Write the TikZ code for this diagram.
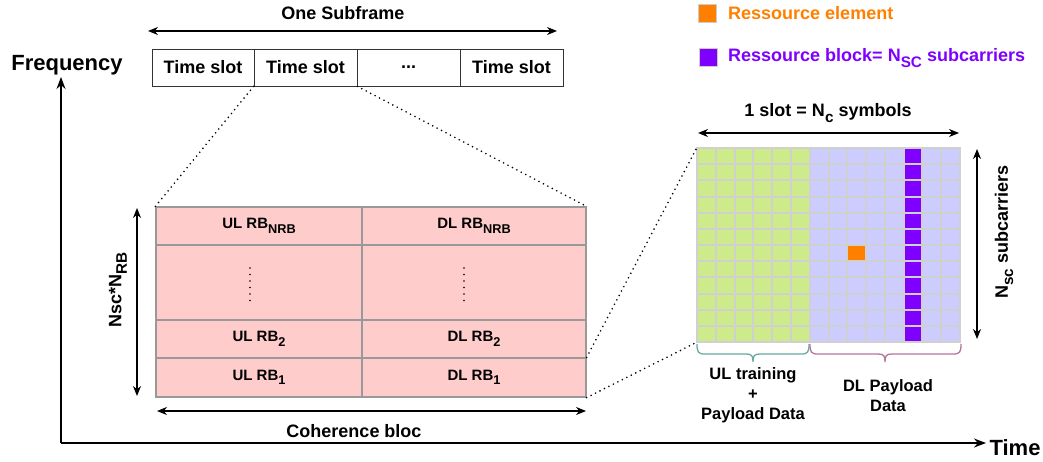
\documentclass[tikz,border=0pt]{standalone}
\usepackage{fontspec}
\setmainfont{Liberation Sans}
\usepackage{graphicx}
\usetikzlibrary{arrows.meta,calc}
\definecolor{cgreen}{HTML}{CDEB8B}
\definecolor{clav}{HTML}{CCCCFF}
\definecolor{cpurp}{HTML}{7F00FF}
\definecolor{corange}{HTML}{FF8000}
\definecolor{cpink}{HTML}{FFCCCC}
\definecolor{cteal}{HTML}{67AB9F}
\definecolor{cmag}{HTML}{B5739D}
\definecolor{cgridline}{HTML}{D0D0D0}
\newcommand\fsz[2]{\fontsize{#1}{#2}\selectfont}
\newcommand\lsub[1]{\raisebox{-0.3em}{\scalebox{0.85}{#1}}}
\begin{document}
\begin{tikzpicture}[x=1pt,y=-1pt,
  lbl/.style={inner sep=0pt, font=\bfseries\fsz{18}{21}},
  slotbox/.style={draw=black!80, line width=0.8pt, minimum width=103pt, minimum height=37pt, inner sep=0pt, font=\bfseries\fsz{18}{21}},
  rbcell/.style={draw=black!40, fill=cpink, line width=1.2pt, inner sep=0pt, font=\bfseries\fsz{15}{17}},
  dblarrow/.style={{Stealth[length=10pt,width=8pt]}-{Stealth[length=10pt,width=8pt]}, line width=1.3pt},
  axisarrow/.style={-{Stealth[length=12pt,width=9pt]}, line width=1.5pt},
  dotline/.style={dash pattern=on 0pt off 5pt, line cap=round, line width=1.8pt},
  legsq/.style={draw=black!20, line width=0.6pt, minimum size=18pt, inner sep=0pt},
  bracelbl/.style={inner sep=0pt, align=center, font=\bfseries\fsz{16.5}{20}}
]
\useasboundingbox (0,0) rectangle (1043,462);

% ---------- axes ----------
\coordinate (orig) at (61,443);
\coordinate (ytop) at (61,77);
\coordinate (xend) at (986,443);
\draw[axisarrow] (orig) -- (ytop);
\draw[axisarrow] (orig) -- (xend);
\node[lbl, font=\bfseries\fsz{22}{26}] (freq) at (67,65) {Frequency};
\node[lbl, font=\bfseries\fsz{22}{26}] (time) at (1015,448) {Time};

% ---------- subframe ----------
\node[lbl] (sftxt) at (343,13) {One Subframe};
\coordinate (sfL) at (148,31);
\coordinate (sfR) at (557,31);
\draw[dblarrow] (sfL) -- (sfR);
\node[slotbox, minimum width=102pt] (s1) at (203,67.5) {Time slot};
\node[slotbox] (s2) at (305.5,67.5) {Time slot};
\node[slotbox] (s3) at (408.5,67.5) {...};
\node[slotbox] (s4) at (511.5,67.5) {Time slot};

% ---------- coherence bloc grid ----------
\node[rbcell, minimum width=206pt, minimum height=38pt] (c11) at (259,226) {UL RB\lsub{NRB}};
\node[rbcell, minimum width=224pt, minimum height=38pt] (c12) at (474,226) {DL RB\lsub{NRB}};
\node[rbcell, minimum width=206pt, minimum height=75pt] (c21) at (259,282.5) {};
\node[rbcell, minimum width=224pt, minimum height=75pt] (c22) at (474,282.5) {};
\node[rbcell, minimum width=206pt, minimum height=38pt] (c31) at (259,339) {UL RB\lsub{2}};
\node[rbcell, minimum width=224pt, minimum height=38pt] (c32) at (474,339) {DL RB\lsub{2}};
\node[rbcell, minimum width=206pt, minimum height=39pt] (c41) at (259,377.5) {UL RB\lsub{1}};
\node[rbcell, minimum width=224pt, minimum height=39pt] (c42) at (474,377.5) {DL RB\lsub{1}};
\coordinate (dla) at (250,268);
\coordinate (dlb) at (250,301);
\coordinate (dra) at (464,268);
\coordinate (drb) at (464,301);
\draw[dotline, dash pattern=on 0pt off 6.5pt] (dla) -- (dlb);
\draw[dotline, dash pattern=on 0pt off 6.5pt] (dra) -- (drb);

\coordinate (vaT) at (137,208);
\coordinate (vaB) at (137,396);
\draw[dblarrow] (vaT) -- (vaB);
\node[lbl, rotate=90] (nscnrb) at (118,290) {Nsc*N\lsub{RB}};
\coordinate (haL) at (157,411);
\coordinate (haR) at (586,411);
\draw[dblarrow] (haL) -- (haR);
\node[lbl] (coh) at (354,431) {Coherence bloc};

% ---------- resource grid ----------
\node[minimum width=263pt, minimum height=194pt, inner sep=0pt] (grid) at (828.5,245) {};
\fill[cgridline] ($(grid.north west)+(-1,-1)$) rectangle ($(grid.south east)+(1,1)$);
\foreach \c in {0,...,13}{
  \foreach \r in {0,...,11}{
    \ifnum\c<6 \def\cc{cgreen}\else\ifnum\c=11 \def\cc{cpurp}\else\def\cc{clav}\fi\fi
    \fill[\cc] ({697+\c*18.786+1},{148+\r*16.167+1}) rectangle ({697+(\c+1)*18.786-1},{148+(\r+1)*16.167-1});
  }
}
\fill[corange] ({697+8*18.786+1},{148+6*16.167+1}) rectangle ({697+9*18.786-1},{148+7*16.167-1});

\node[lbl] (slottxt) at (828,113) {1 slot = N\lsub{c} symbols};
\coordinate (saL) at (698,133);
\coordinate (saR) at (959,133);
\draw[dblarrow] (saL) -- (saR);
\coordinate (raT) at (977,149);
\coordinate (raB) at (977,339);
\draw[dblarrow] (raT) -- (raB);
\node[lbl, rotate=90] (nsc) at (1004,232) {N\lsub{sc} subcarriers};

% braces
\draw[cteal, line width=1.3pt] (697,344) .. controls (697,352) and (698,354) .. (705,354) -- (746,354) .. controls (752,354) and (753,356) .. (753,362)
  .. controls (753,356) and (754,354) .. (760,354) -- (801,354) .. controls (808,354) and (809,352) .. (809,344);
\draw[cmag, line width=1.3pt] (810,344) .. controls (810,352) and (811,354) .. (818,354) -- (878,354) .. controls (884,354) and (885,356) .. (885,362)
  .. controls (885,356) and (886,354) .. (892,354) -- (953,354) .. controls (960,354) and (961,352) .. (961,344);
\node[bracelbl] (ultxt) at (753,395) {UL training\\+\\Payload Data};
\node[bracelbl] (dltxt) at (888,396) {DL Payload\\Data};

% ---------- dotted zoom lines ----------
\draw[dotline] (s2.south west) -- (c11.north west);
\draw[dotline] (s2.south east) -- (c12.north east);
\draw[dotline] (c42.north east) -- (grid.north west);
\draw[dotline] (c42.south east) -- (grid.south west);

% ---------- legend ----------
\node[legsq, fill=corange] (lsq1) at (707.5,13.5) {};
\node[lbl, anchor=west, text=corange] (ltx1) at (728,13) {Ressource element};
\node[legsq, fill=cpurp] (lsq2) at (708,57.5) {};
\node[lbl, anchor=west, text=cpurp] (ltx2) at (728,58) {Ressource block= N\lsub{SC} subcarriers};
\end{tikzpicture}
\end{document}
